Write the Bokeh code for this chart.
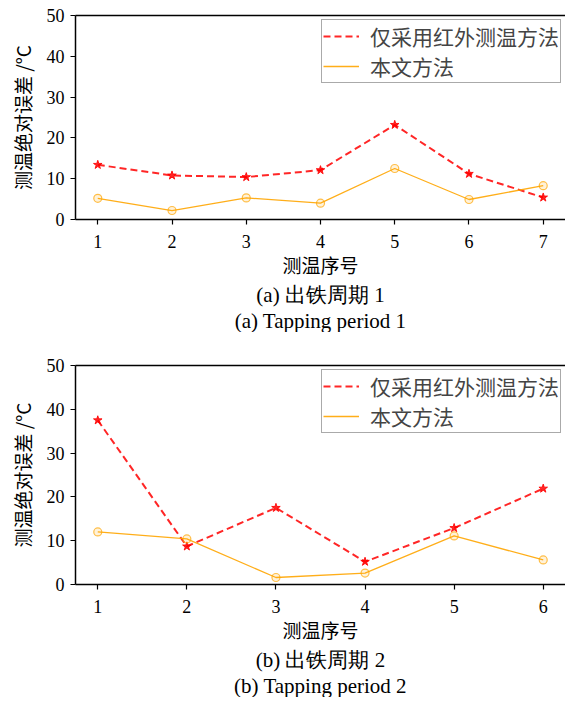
from bokeh.plotting import figure
from bokeh.models import (Range1d, LinearAxis, Legend, LegendItem, Title,
                          FixedTicker, ColumnDataSource)
from bokeh.layouts import column
from bokeh.embed import file_html
from bokeh.resources import INLINE

# ---------------- data ----------------
x1 = [1, 2, 3, 4, 5, 6, 7]
ir_only_1 = [13.4, 10.8, 10.4, 12.1, 23.2, 11.2, 5.4]
proposed_1 = [5.2, 2.2, 5.3, 4.0, 12.5, 4.9, 8.3]

x2 = [1, 2, 3, 4, 5, 6]
ir_only_2 = [37.5, 8.7, 17.5, 5.2, 12.9, 21.9]
proposed_2 = [12.0, 10.4, 1.6, 2.6, 11.1, 5.6]

series_names = ["仅采用红外测温方法", "本文方法"]
xlabel = "测温序号"
ylabel = "测温绝对误差 /°C"
captions_1 = ["(a) 出铁周期 1", "(a) Tapping period 1"]
captions_2 = ["(b) 出铁周期 2", "(b) Tapping period 2"]
y_ticks = [0, 10, 20, 30, 40, 50]

SERIF = "Liberation Serif"
CJK = "Noto Sans CJK SC"


def make_panel(xs, red, orange, captions, xr, frame_h, top_border):
    p = figure(width=565, frame_width=490, frame_height=frame_h,
               x_range=Range1d(*xr), y_range=Range1d(0, 50),
               output_backend="svg", toolbar_location=None,
               min_border_left=75, min_border_right=0,
               min_border_top=top_border, min_border_bottom=0)
    p.outline_line_color = None
    p.grid.visible = False
    p.background_fill_color = "white"

    for ax in (p.xaxis[0], p.yaxis[0]):
        ax.axis_line_width = 1.5
        ax.axis_line_color = "black"
        ax.major_tick_out = 5
        ax.major_tick_in = 0
        ax.major_tick_line_width = 1.2
        ax.minor_tick_out = 0
        ax.minor_tick_in = 0
        ax.major_label_text_font = SERIF
        ax.major_label_text_font_size = "18px"
        ax.major_label_text_color = "black"
        ax.axis_label_text_font = CJK
        ax.axis_label_text_font_size = "19px"
        ax.axis_label_text_font_style = "normal"
        ax.axis_label_text_color = "black"

    p.xaxis[0].ticker = FixedTicker(ticks=xs)
    p.yaxis[0].ticker = FixedTicker(ticks=y_ticks)
    p.xaxis[0].axis_label = xlabel
    p.yaxis[0].axis_label = ylabel
    p.xaxis[0].major_label_standoff = 10
    p.xaxis[0].axis_label_standoff = 0
    p.yaxis[0].major_label_standoff = 6
    p.yaxis[0].axis_label_standoff = 8

    top = LinearAxis(axis_line_width=1.5, axis_line_color="black",
                     major_tick_out=0, major_tick_in=0,
                     minor_tick_out=0, minor_tick_in=0,
                     major_label_text_font_size="0px",
                     ticker=FixedTicker(ticks=[]))
    p.add_layout(top, "above")

    src = ColumnDataSource(dict(x=xs, red=red, orange=orange))
    r_red = p.line("x", "red", source=src, line_color="red", line_width=2,
                   line_dash="7 4", line_alpha=0.85)
    p.scatter("x", "red", source=src, marker="star", size=9,
              fill_color="red", line_color="red", alpha=0.85)
    r_or = p.line("x", "orange", source=src, line_color="orange",
                  line_width=1.3, line_alpha=0.9)
    p.scatter("x", "orange", source=src, marker="circle", size=8,
              fill_color="orange", fill_alpha=0.15, line_color="orange",
              line_width=1.2, line_alpha=0.7)

    legend = Legend(items=[LegendItem(label=series_names[0], renderers=[r_red]),
                           LegendItem(label=series_names[1], renderers=[r_or])],
                    location="top_right")
    legend.label_text_font = CJK
    legend.label_text_font_size = "21px"
    legend.label_height = 24
    legend.glyph_height = 24
    legend.glyph_width = 36
    legend.label_standoff = 11
    legend.spacing = 0
    legend.padding = 1
    legend.margin = 4
    legend.border_line_color = "#555555"
    legend.border_line_width = 1
    legend.background_fill_color = "white"
    legend.background_fill_alpha = 0.9
    p.add_layout(legend)

    for i, cap in enumerate(captions):
        t = Title(text=cap, align="center", text_font=SERIF,
                  text_font_size="21px", text_font_style="normal",
                  text_color="black", standoff=0)
        p.add_layout(t, "below")
    return p


p1 = make_panel(x1, ir_only_1, proposed_1, captions_1, (0.7, 7.3), 204, 15)
p2 = make_panel(x2, ir_only_2, proposed_2, captions_2, (0.75, 6.25), 219, 33)

layout = column(p1, p2, spacing=0)
open("out.html", "w").write(file_html(layout, INLINE))
